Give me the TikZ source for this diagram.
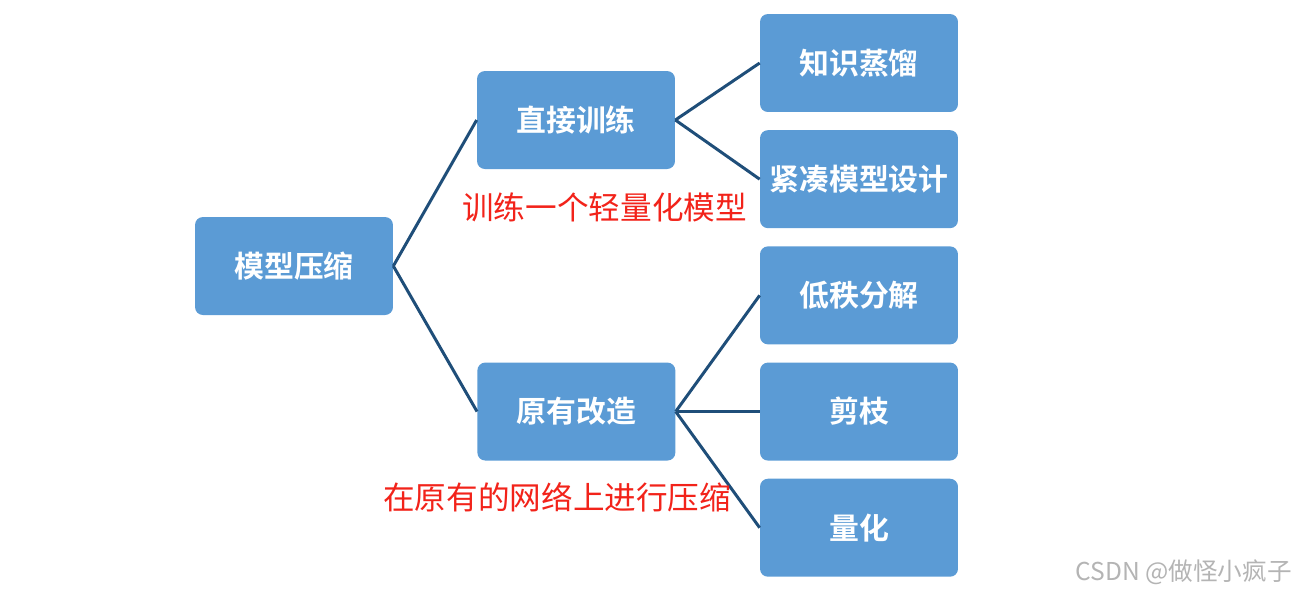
\documentclass[tikz,border=0pt]{standalone}
\usepackage{fontspec}
\usepackage{xcolor}
\usepackage{tikz}
\usetikzlibrary{positioning}
\newfontfamily\cjk{Noto Sans CJK SC}[BoldFont={Noto Sans CJK SC Bold}]
\definecolor{boxblue}{HTML}{5B9BD5}
\definecolor{linkblue}{HTML}{1F4E79}
\definecolor{notered}{HTML}{F2231A}
\definecolor{markgray}{HTML}{B4B4B4}
\tikzset{
  box/.style   ={rounded corners=4.5pt,fill=boxblue,text=white,
                 minimum width=3.96cm,minimum height=1.96cm,inner sep=2pt,
                 align=center,font=\cjk\bfseries\fontsize{17}{20}\selectfont},
  link/.style  ={line width=1.7pt,draw=linkblue},
  note/.style  ={text=notered,inner sep=0pt,anchor=west,
                 font=\cjk\fontsize{18}{20}\selectfont}
}
\begin{document}
\begin{tikzpicture}[x=0.02cm,y=-0.02cm,node distance=0.35cm]
        \useasboundingbox (0,0) rectangle (1297,593);
        % leaves
        \node[box] (zszl) at (859,63) {知识蒸馏};
        \node[box,below=of zszl] (jcsj) {紧凑模型设计};
        \node[box,below=of jcsj] (dzfj) {低秩分解};
        \node[box,below=of dzfj] (jz) {剪枝};
        \node[box,below=of jz] (lh) {量化};
        % middle and root
        \node[box] (zjxl) at (576,120) {直接训练};
        \node[box,left=1.68cm of jz] (yygz) {原有改造};
        \node[box] (mxys) at (294,266) {模型压缩};
        \draw[link] (mxys.east) -- (zjxl.west);
        \draw[link] (mxys.east) -- (yygz.west);
        \draw[link] (zjxl.east) -- (zszl.west);
        \draw[link] (zjxl.east) -- (jcsj.west);
        \draw[link] (yygz.east) -- (dzfj.west);
        \draw[link] (yygz.east) -- (jz.west);
        \draw[link] (yygz.east) -- (lh.west);
        % notes
        \node[note] (note1) at (462,207) {训练一个轻量化模型};
        \node[note] (note2) at (383,497) {在原有的网络上进行压缩};
        \node[text=markgray,inner sep=0pt,anchor=east,font=\cjk\fontsize{14}{16}\selectfont]
          (mark) at (1292,572) {CSDN @做怪小疯子};
      \end{tikzpicture}
\end{document}
